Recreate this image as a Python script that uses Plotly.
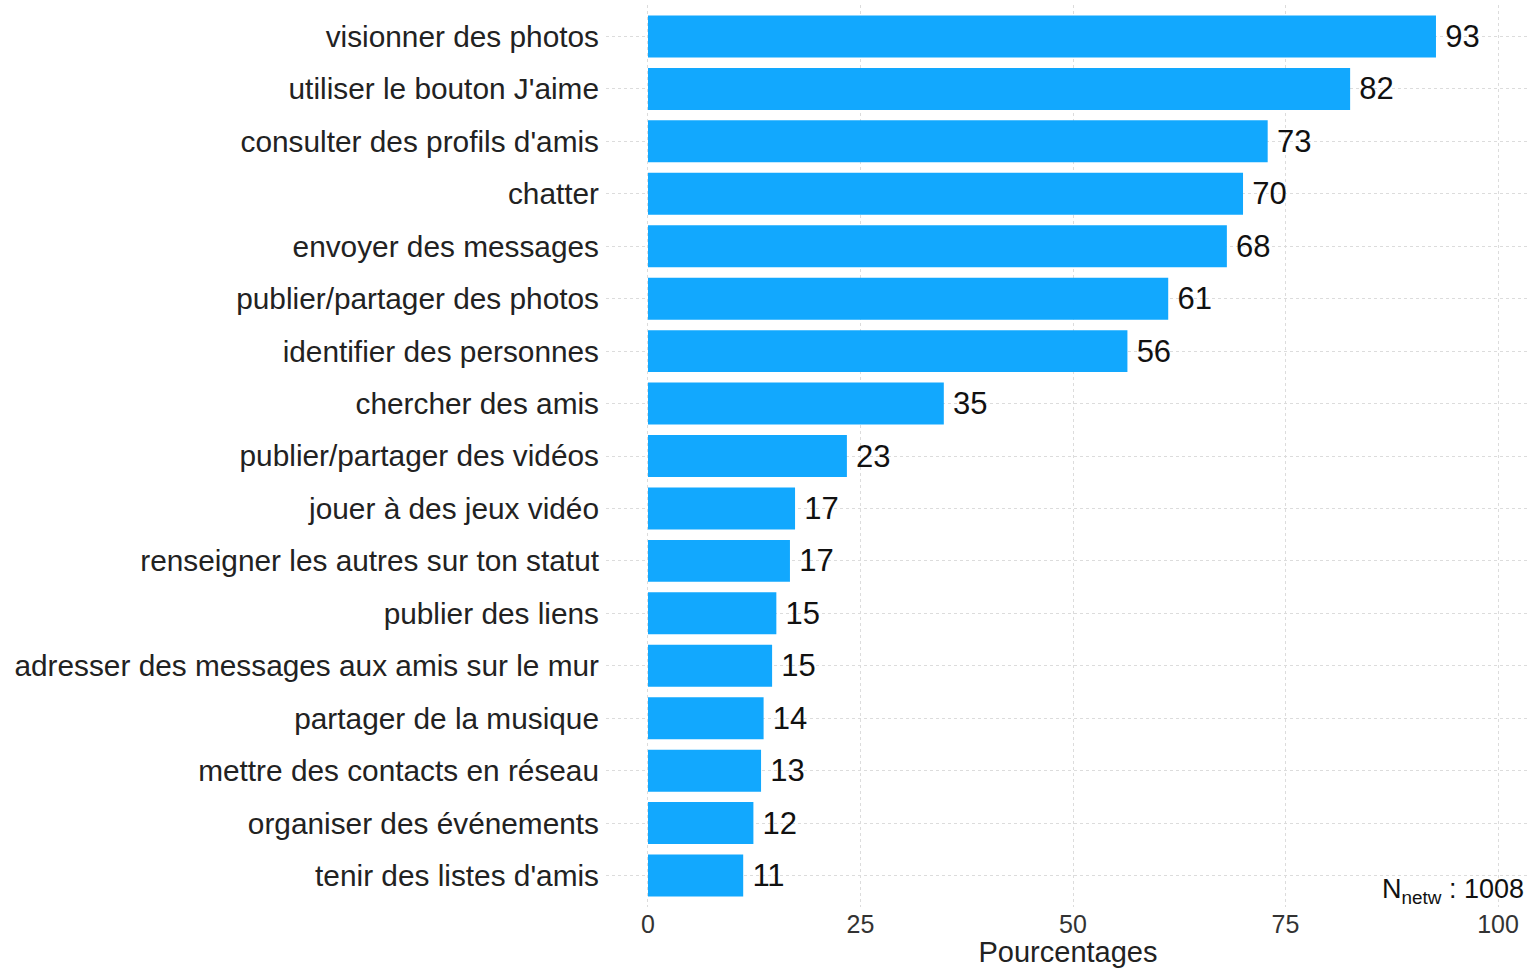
import plotly.graph_objects as go

categories = [
    "visionner des photos",
    "utiliser le bouton J'aime",
    "consulter des profils d'amis",
    "chatter",
    "envoyer des messages",
    "publier/partager des photos",
    "identifier des personnes",
    "chercher des amis",
    "publier/partager des vidéos",
    "jouer à des jeux vidéo",
    "renseigner les autres sur ton statut",
    "publier des liens",
    "adresser des messages aux amis sur le mur",
    "partager de la musique",
    "mettre des contacts en réseau",
    "organiser des événements",
    "tenir des listes d'amis",
]
values = [92.7, 82.6, 72.9, 70.0, 68.1, 61.2, 56.4, 34.8, 23.4, 17.3, 16.7, 15.1, 14.6, 13.6, 13.3, 12.4, 11.2]
value_labels = ["93", "82", "73", "70", "68", "61", "56", "35", "23", "17", "17", "15", "15", "14", "13", "12", "11"]
x_ticks = [0, 25, 50, 75, 100]
n_text = "N<sub>netw</sub> : 1008"

FONT = "Liberation Sans, Arial, Helvetica, sans-serif"

fig = go.Figure(go.Bar(
    x=values,
    y=categories,
    orientation="h",
    marker=dict(color="#12A8FE", line=dict(width=0)),
    text=["\u2009" + t for t in value_labels],
    textposition="outside",
    constraintext="none",
    cliponaxis=False,
    textfont=dict(family=FONT, size=31, color="#111111"),
    hoverinfo="x+y",
))

n_cat = len(categories)
fig.update_layout(
    width=1530,
    height=968,
    margin=dict(l=606, r=0, t=5, b=61, autoexpand=False),
    paper_bgcolor="white",
    plot_bgcolor="white",
    bargap=0.2,
    showlegend=False,
    font=dict(family=FONT, color="#222222"),
    xaxis=dict(
        range=[-4.94, 103.76],
        tickvals=x_ticks,
        ticktext=[str(t) for t in x_ticks],
        tickfont=dict(family=FONT, size=25, color="#333333"),
        showgrid=True,
        gridcolor="#dcdcdc",
        griddash="dot",
        gridwidth=1,
        zeroline=False,
        showline=False,
        ticks="",
        automargin=False,
        title=dict(text="Pourcentages", font=dict(family=FONT, size=29, color="#222222"), standoff=0),
    ),
    yaxis=dict(
        categoryorder="array",
        categoryarray=categories,
        range=[n_cat - 1 + 0.6, -0.6],
        tickfont=dict(family=FONT, size=29.8, color="#222222"),
        showgrid=True,
        gridcolor="#dcdcdc",
        griddash="dot",
        gridwidth=1,
        zeroline=False,
        showline=False,
        ticks="",
        automargin=False,
        ticklabelstandoff=6,
    ),
    annotations=[dict(
        text=n_text,
        xref="paper", yref="paper",
        x=1, y=0,
        xanchor="right", yanchor="bottom",
        xshift=-4, yshift=-3,
        showarrow=False,
        font=dict(family=FONT, size=27, color="#111111"),
    )],
)

fig.write_html(
    "out.html",
    config={"displayModeBar": False},
    post_script="document.body.style.margin='0px';document.body.style.overflow='hidden';",
)
